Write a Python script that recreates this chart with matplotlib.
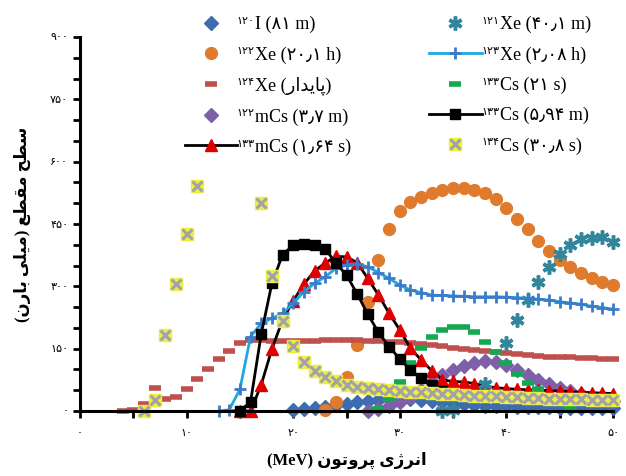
import matplotlib
matplotlib.use("Agg")
import matplotlib.pyplot as plt

plt.rcParams['font.family'] = ['Liberation Serif', 'DejaVu Sans']

# --- data (energy in MeV, cross section in mb) ---
i120_x = list(range(20, 51))
i120_y = [2, 4, 7, 10, 14, 18, 22, 25, 27, 28, 29, 29, 27, 25, 22, 19, 17, 15, 13, 12,
          11, 10, 10, 9, 9, 8, 8, 8, 7, 7, 7]

xe122_x = list(range(23, 51))
xe122_y = [3, 22, 83, 160, 263, 363, 438, 481, 503, 516, 525, 532, 536, 536, 533, 525,
           509, 488, 461, 437, 410, 386, 363, 346, 331, 319, 310, 303]

xe124_x = list(range(4, 51))
xe124_y = [0, 3, 18, 55, 28, 34, 52, 76, 101, 124, 145, 164, 172, 170, 168, 168, 168, 168,
           169, 170, 170, 170, 170, 169, 168, 167, 166, 164, 162, 159, 156, 152, 149, 146,
           144, 141, 139, 137, 135, 133, 131, 130, 129, 128, 127, 126, 125]

cs122m_x = list(range(27, 51))
cs122m_y = [0, 5, 12, 22, 34, 50, 70, 86, 98, 108, 116, 120, 118, 110, 98, 86, 75, 64,
            55, 47, 40, 34, 29, 25]

cs133m_x = list(range(15, 51))
cs133m_y = [0, 0, 63, 149, 219, 265, 305, 337, 356, 372, 371, 357, 319, 279, 235, 195,
            151, 123, 97, 75, 71, 70, 66, 60, 56, 54, 52, 51, 50, 49, 48, 46, 45, 44, 43, 42]

xe121_x = [34, 35, 38, 40, 41, 42, 43, 44, 45, 46, 47, 48, 49, 50]
xe121_y = [0, 2, 66, 163, 219, 266, 311, 347, 379, 399, 413, 416, 418, 407]

xe123_x = list(range(13, 51))
xe123_y = [0, 3, 52, 179, 211, 223, 235, 259, 287, 307, 323, 343, 351, 354, 347, 333,
           319, 303, 291, 285, 279, 278, 277, 276, 275, 275, 275, 274, 273, 271, 269, 267,
           263, 260, 257, 252, 249, 245]

cs133s_x = list(range(28, 47))
cs133s_y = [5, 30, 70, 115, 151, 179, 195, 203, 203, 191, 167, 143, 116, 88, 68, 52, 35, 20, 8]

cs133_x = list(range(15, 35))
cs133_y = [0, 22, 185, 307, 376, 399, 401, 399, 390, 356, 327, 282, 233, 189, 155, 125,
           99, 79, 62, 48]

cs134_x = [6, 7, 8, 9, 10, 11] + list(range(17, 51))
cs134_y = [0, 26, 183, 305, 426, 541, 500, 325, 217, 157, 119, 97, 81, 71, 63, 58, 55, 52,
           50, 48, 46, 45, 43, 41, 40, 38, 37, 36, 35, 34, 33, 32, 31, 30, 29, 29, 28, 27, 27, 26]

x_ticks = [0, 10, 20, 30, 40, 50]
y_ticks = [0, 150, 300, 450, 600, 750, 900]

mass_nums = [120, 122, 124, 122, 133, 121, 123, 133, 133, 134]

# --- minimal Persian shaping (presentation forms, visual order) ---
FORMS = {
    'ا': (0xFE8D, 0xFE8E, None, None), 'ب': (0xFE8F, 0xFE90, 0xFE91, 0xFE92),
    'پ': (0xFB56, 0xFB57, 0xFB58, 0xFB59), 'ت': (0xFE95, 0xFE96, 0xFE97, 0xFE98),
    'ح': (0xFEA1, 0xFEA2, 0xFEA3, 0xFEA4), 'د': (0xFEA9, 0xFEAA, None, None),
    'ر': (0xFEAD, 0xFEAE, None, None), 'ژ': (0xFB8A, 0xFB8B, None, None),
    'س': (0xFEB1, 0xFEB2, 0xFEB3, 0xFEB4), 'ط': (0xFEC1, 0xFEC2, 0xFEC3, 0xFEC4),
    'ع': (0xFEC9, 0xFECA, 0xFECB, 0xFECC), 'ق': (0xFED5, 0xFED6, 0xFED7, 0xFED8),
    'ل': (0xFEDD, 0xFEDE, 0xFEDF, 0xFEE0), 'م': (0xFEE1, 0xFEE2, 0xFEE3, 0xFEE4),
    'ن': (0xFEE5, 0xFEE6, 0xFEE7, 0xFEE8), 'و': (0xFEED, 0xFEEE, None, None),
    'ی': (0xFEEF, 0xFEF0, 0xFEF3, 0xFEF4),
}

def fa(s):
    out = []
    for i, ch in enumerate(s):
        if ch not in FORMS:
            out.append(ch); continue
        prev = s[i - 1] if i > 0 else ''
        nxt = s[i + 1] if i + 1 < len(s) else ''
        jp = prev in FORMS and FORMS[prev][2] is not None
        jn = nxt in FORMS and FORMS[ch][2] is not None
        f = FORMS[ch]
        c = f[3] if (jp and jn) else f[1] if jp else f[2] if jn else f[0]
        out.append(chr(c))
    mirror = {'(': ')', ')': '('}
    return ''.join(mirror.get(c, c) for c in reversed(out))

def fd(n):
    return str(n).translate(str.maketrans('0123456789', '۰۱۲۳۴۵۶۷۸۹'))

labels = ["I (۸۱ m)", "Xe (۲۰٫۱ h)", "Xe (" + fa('پایدار') + ")", "mCs (۳٫۷ m)",
          "mCs (۱٫۶۴ s)", "Xe (۴۰٫۱ m)", "Xe (۲٫۰۸ h)", "Cs (۲۱ s)", "Cs (۵٫۹۴ m)",
          "Cs (۳۰٫۸ s)"]

fig = plt.figure(figsize=(6.26, 4.76), dpi=100)
ax = fig.add_axes([80 / 626, 1 - 411 / 476, 533 / 626, 374 / 476])

kw = dict(clip_on=False)
h1, = ax.plot(i120_x, i120_y, ls='none', marker='D', ms=7, color='#3D6DB0', mec='#3D6DB0', **kw)
h2, = ax.plot(xe122_x, xe122_y, ls='none', marker='o', ms=8.5, color='#E07B2E', mec='#E07B2E', **kw)
h3, = ax.plot(xe124_x, xe124_y, ls='none', marker='_', ms=8, mew=4, color='#C0504D', **kw)
h4, = ax.plot(cs122m_x, cs122m_y, ls='none', marker='D', ms=7, color='#7F5FA8', mec='#7F5FA8', **kw)
h5, = ax.plot(cs133m_x, cs133m_y, color='black', lw=2, marker='^', ms=9,
              mfc='#E00000', mec='#E00000', **kw)
h6, = ax.plot(xe121_x, xe121_y, ls='none', marker=(6, 2, 0), ms=10, mew=2.5, color='#31869B', **kw)
h7, = ax.plot(xe123_x, xe123_y, color='#1EA8E0', lw=2, marker='+', ms=9, mew=2,
              mec='#3B7BC8', **kw)
h8, = ax.plot(cs133s_x, cs133s_y, ls='none', marker='_', ms=9, mew=4, color='#14A850', **kw)
h9, = ax.plot(cs133_x, cs133_y, color='black', lw=2, marker='s', ms=7.5, **kw)
h10a, = ax.plot(cs134_x, cs134_y, ls='none', marker='s', ms=9, color='#EEEE40', mec='#EEEE40', **kw)
h10b, = ax.plot(cs134_x, cs134_y, ls='none', marker='x', ms=7, mew=2.2, color='#A2A2AA', **kw)

ax.set_xlim(0, 50)
ax.set_ylim(0, 900)
for s in ['top', 'right']:
    ax.spines[s].set_visible(False)
for s in ['left', 'bottom']:
    ax.spines[s].set_linewidth(2.2)

ax.set_xticks(x_ticks)
ax.set_xticklabels([fd(v) for v in x_ticks])
ax.set_xticks([5, 15, 25, 35, 45], minor=True)
ax.set_yticks(y_ticks)
ax.set_yticklabels([fd(v) for v in y_ticks])
ax.set_yticks([v for v in range(50, 900, 50) if v % 150], minor=True)
ax.tick_params(which='both', direction='out', width=2, length=5, labelsize=8)
ax.tick_params(axis='x', pad=8)

ax.set_xlabel('(MeV) ' + fa('انرژی پروتون'), fontsize=12, fontweight='bold', labelpad=10)
ax.set_ylabel(fa('سطح مقطع (میلی بارن)'), fontsize=12, fontweight='bold', labelpad=14)

handles = [h1, h2, h3, h4, h5, h6, h7, h8, h9, (h10a, h10b)]
leg = fig.legend(handles, labels, ncol=2, loc='upper left',
                 bbox_to_anchor=(185 / 626, 1 - 16 / 476),
                 frameon=False, fontsize=13, handlelength=2.9, handletextpad=1.0,
                 columnspacing=4.3, labelspacing=0.72, borderpad=0, borderaxespad=0)

# mass numbers as small raised text just left of each legend label
fig.canvas.draw()
W, H = fig.bbox.width, fig.bbox.height
for t, m in zip(leg.get_texts(), mass_nums):
    bb = t.get_window_extent()
    fig.text((bb.x0 - 0.5) / W, (bb.y1 - 1) / H, fd(m), ha='right', va='top', fontsize=8)

fig.savefig('out.png', dpi=100)
